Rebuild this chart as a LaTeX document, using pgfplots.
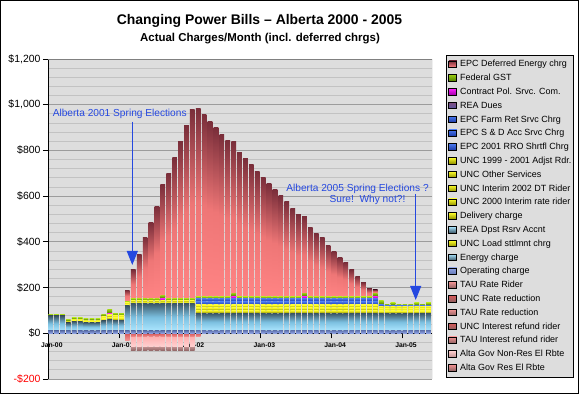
\documentclass[border=0pt]{standalone}
\usepackage{pgfplots}
\pgfplotsset{compat=1.18}
\usepackage{pgfplotstable}
\usepackage{fontspec}
\setmainfont{Liberation Sans}
\usetikzlibrary{arrows.meta}
\definecolor{plotbg}{HTML}{DDDDDD}
\definecolor{majgrid}{HTML}{9C9C9C}
\definecolor{mingrid}{HTML}{C2C2C2}
\definecolor{opB}{HTML}{90A4E6}\definecolor{opT}{HTML}{6478B4}
\definecolor{enB}{HTML}{ACE6FF}\definecolor{enM}{HTML}{7CC0E0}\definecolor{enT}{HTML}{3A5565}
\definecolor{ylB}{HTML}{8E8E00}\definecolor{ylT}{HTML}{FFFF2A}
\definecolor{blB}{HTML}{1A38A6}\definecolor{blT}{HTML}{4A78EE}
\definecolor{mgB}{HTML}{A000A8}\definecolor{mgT}{HTML}{FF20FF}
\definecolor{grB}{HTML}{4E7E00}\definecolor{grT}{HTML}{9ACC10}
\definecolor{rdB}{HTML}{FF8484}\definecolor{rdM}{HTML}{EE7676}\definecolor{rdT}{HTML}{7A2E3A}
\definecolor{naT}{HTML}{C09090}\definecolor{naB}{HTML}{8C6262}
\definecolor{nbT}{HTML}{FFB0B0}\definecolor{nbB}{HTML}{FFD0D0}
\definecolor{ncT}{HTML}{D85858}\definecolor{ncB}{HTML}{F49494}
\definecolor{annot}{HTML}{2548E0}

\pgfdeclareplotmark{nothing}{}
\pgfplotsset{
  barlayer/.style 2 args={forget plot, only marks, mark=nothing, scatter,
    visualization depends on={\thisrow{#1} \as \h},
    scatter/@pre marker code/.code={\pgfscope
      \ifdim\h pt=0pt\else
        \path[draw=none,#2] (-2.35bp,0bp) rectangle ({2.35bp},{-(\h)*0.2285714bp});%
      \fi},
    scatter/@post marker code/.code={\endpgfscope},
  },
  neglayer/.style 2 args={forget plot, stack plots=false, only marks, mark=nothing, scatter,
    visualization depends on={\thisrow{#1} \as \h},
    scatter/@pre marker code/.code={\pgfscope
      \ifdim\h pt=0pt\else
        \path[draw=none,#2] (-2.35bp,0bp) rectangle ({2.35bp},{(\h)*0.2285714bp});%
      \fi},
    scatter/@post marker code/.code={\endpgfscope},
  },
}

% op..rd: stacked layer heights; n1,n2,n3: lower edges of the three
% rebate layers below zero; t1,t2,t3: their thicknesses
\pgfplotstableread{
m op en y1 y2 y3 b1 b2 mg gr rd n1 t1 n2 t2 n3 t3
0 10 66 0 0 0 0 0 0 7 0 0 0 0 0 0 0
1 10 66 0 0 0 0 0 0 7 0 0 0 0 0 0 0
2 10 66 0 0 0 0 0 0 7 0 0 0 0 0 0 0
3 10 36 5 4 0 0 0 0 6 0 0 0 0 0 0 0
4 10 42 6 5 0 0 0 0 6 0 0 0 0 0 0 0
5 10 42 6 5 0 0 0 0 6 0 0 0 0 0 0 0
6 10 38 6 5 0 0 0 0 6 0 0 0 0 0 0 0
7 10 38 6 5 0 0 0 0 6 0 0 0 0 0 0 0
8 10 38 6 5 0 0 0 0 6 0 0 0 0 0 0 0
9 10 46 8 8 0 0 0 3 9 0 0 0 0 0 0 0
10 10 52 9 9 0 0 0 8 16 0 0 0 0 0 0 0
11 10 48 10 9 0 0 0 0 10 0 0 0 0 0 0 0
12 10 48 10 9 0 0 0 0 10 0 0 0 0 0 0 0
13 10 110 7 7 0 0 0 0 6 48 -30 30 0 0 0 0
14 10 122 6 6 0 0 0 0 8 125 -16 16 -58 42 -77 19
15 10 122 6 6 0 0 0 0 8 191 -16 16 -58 42 -77 19
16 10 122 6 6 0 0 0 0 8 267 -16 16 -58 42 -77 19
17 10 122 6 6 0 0 0 0 8 333 -16 16 -58 42 -77 19
18 10 122 6 6 0 0 0 0 8 402 -16 16 -58 42 -77 19
19 10 122 6 6 0 0 0 10 12 484 -16 16 -58 42 -77 19
20 10 122 6 6 0 0 0 0 8 546 -16 16 -58 42 -77 19
21 10 122 6 6 0 0 0 0 8 615 -16 16 -58 42 -77 19
22 10 122 6 6 0 0 0 0 8 689 -16 16 -58 42 -77 19
23 10 122 6 6 0 0 0 0 8 756 -16 16 -58 42 -77 19
24 10 122 6 6 0 0 0 0 8 828 -16 16 -58 42 -77 19
25 12 76 12 12 12 15 14 0 7 823 -14 14 0 0 0 0
26 12 76 12 12 12 15 14 0 7 798 0 0 0 0 0 0
27 12 76 12 12 12 15 14 0 7 767 0 0 0 0 0 0
28 12 76 12 12 12 15 14 0 7 740 0 0 0 0 0 0
29 12 76 12 12 12 15 14 0 7 710 0 0 0 0 0 0
30 12 76 12 12 12 15 14 0 7 684 0 0 0 0 0 0
31 12 76 12 12 12 15 14 10 13 662 0 0 0 0 0 0
32 12 76 12 12 12 15 14 0 7 631 0 0 0 0 0 0
33 12 76 12 12 12 15 14 0 7 604 0 0 0 0 0 0
34 12 76 12 12 12 15 14 0 7 577 0 0 0 0 0 0
35 12 76 12 12 12 15 14 0 7 548 0 0 0 0 0 0
36 12 76 12 12 12 15 14 0 7 523 0 0 0 0 0 0
37 12 76 12 12 12 15 14 0 7 494 0 0 0 0 0 0
38 12 76 12 12 12 15 14 0 7 468 0 0 0 0 0 0
39 12 76 12 12 12 15 14 0 7 442 0 0 0 0 0 0
40 12 76 12 12 12 15 14 0 7 415 0 0 0 0 0 0
41 12 76 12 12 12 15 14 0 7 385 0 0 0 0 0 0
42 12 76 12 12 12 15 14 0 7 358 0 0 0 0 0 0
43 12 76 12 12 12 15 14 10 13 336 0 0 0 0 0 0
44 12 76 12 12 12 15 14 0 7 304 0 0 0 0 0 0
45 12 76 12 12 12 15 14 0 7 275 0 0 0 0 0 0
46 12 76 12 12 12 15 14 0 7 258 0 0 0 0 0 0
47 12 76 12 12 12 15 14 0 7 225 0 0 0 0 0 0
48 12 76 12 12 12 15 14 0 7 198 0 0 0 0 0 0
49 12 76 12 12 12 15 14 0 7 171 0 0 0 0 0 0
50 12 76 12 12 12 15 14 0 7 150 0 0 0 0 0 0
51 12 76 12 12 12 15 14 0 7 117 0 0 0 0 0 0
52 12 76 12 12 12 15 14 0 7 88 0 0 0 0 0 0
53 12 76 12 12 12 15 14 0 7 62 0 0 0 0 0 0
54 12 76 12 12 12 15 14 0 7 36 0 0 0 0 0 0
55 12 76 12 12 12 15 14 10 13 14 0 0 0 0 0 0
56 12 76 10 10 9 10 0 0 15 0 0 0 0 0 0 0
57 12 76 10 10 9 7 0 0 5 0 0 0 0 0 0 0
58 12 76 10 10 9 7 0 0 9 0 0 0 0 0 0 0
59 12 76 10 10 9 7 0 0 4 0 0 0 0 0 0 0
60 12 76 10 10 9 7 0 0 4 0 0 0 0 0 0 0
61 12 76 10 10 9 7 0 0 4 0 0 0 0 0 0 0
62 12 76 10 10 9 7 0 0 9 0 0 0 0 0 0 0
63 12 76 10 10 9 7 0 0 5 0 0 0 0 0 0 0
64 12 76 10 10 9 7 0 0 9 0 0 0 0 0 0 0
}\data

\begin{document}
\begin{tikzpicture}
\useasboundingbox (0,0) rectangle (579bp,394bp);
\fill[white] (0,0) rectangle (579bp,394bp);
\begin{axis}[
  at={(48bp,15bp)}, anchor=south west,
  scale only axis, width=384bp, height=320bp,
  stack plots=y,
  xmin=-0.45, xmax=64.6, ymin=-200, ymax=1200,
  axis background/.style={fill=plotbg},
  axis x line=middle, axis y line=left,
  axis line style={-, black, line width=1bp},
  every inner x axis line/.append style={-},
  every outer y axis line/.append style={-},
  every outer x axis line/.append style={-},
  every inner y axis line/.append style={-},
  hide obscured x ticks=false, hide obscured y ticks=false,
  xtick={-0.4,11.6,23.6,35.6,47.6,59.6},
  xticklabels={Jan-00,Jan-01,Jan-02,Jan-03,Jan-04,Jan-05},
  xticklabel style={font=\fontsize{6.8}{8}\selectfont\bfseries, xshift=3.5bp, yshift=-1bp},
  ytick={-200,0,200,400,600,800,1000,1200},
  yticklabels={{\textcolor{red}{-\$200}},{\$0},{\$200},{\$400},{\$600},{\$800},{\$1,000},{\$1,200}},
  yticklabel style={font=\fontsize{10.5}{12}\selectfont, xshift=1bp},
  minor y tick num=4,
  tick align=outside, major tick length=5bp, minor tick length=0pt,
  tick style={black, line width=0.8bp},
  ymajorgrids, yminorgrids,
  major grid style={majgrid, line width=0.8bp},
  minor grid style={mingrid, line width=0.8bp},
  legend image code/.code={\path[#1] (0bp,-3bp) rectangle (8bp,3.5bp);},
  legend style={at={(1.0365,1.0125)}, anchor=north west,
    fill=plotbg, draw=black, line width=0.8bp,
    font=\fontsize{9}{10}\selectfont,
    inner xsep=2bp, inner ysep=4.5bp,
    row sep=4.8bp, column sep=3bp,
    nodes={inner sep=0pt, text height=7bp, text depth=2bp}},
  legend cell align=left,
]
\addplot[barlayer={op}{bottom color=opB, top color=opT}] table[x=m,y=op]{\data};
\addplot[barlayer={en}{bottom color=enB, top color=enT, middle color=enM}] table[x=m,y=en]{\data};
\addplot[barlayer={y1}{bottom color=ylB, top color=ylT}] table[x=m,y=y1]{\data};
\addplot[barlayer={y2}{bottom color=ylB, top color=ylT}] table[x=m,y=y2]{\data};
\addplot[barlayer={y3}{bottom color=ylB, top color=ylT}] table[x=m,y=y3]{\data};
\addplot[barlayer={b1}{bottom color=blB, top color=blT}] table[x=m,y=b1]{\data};
\addplot[barlayer={b2}{bottom color=blB, top color=blT}] table[x=m,y=b2]{\data};
\addplot[barlayer={mg}{bottom color=mgB, top color=mgT}] table[x=m,y=mg]{\data};
\addplot[barlayer={gr}{bottom color=grB, top color=grT}] table[x=m,y=gr]{\data};
\addplot[barlayer={rd}{bottom color=rdB, top color=rdT, middle color=rdM}] table[x=m,y=rd]{\data};
\addplot[neglayer={t1}{top color=ncT, bottom color=ncB}] table[x=m,y=n1]{\data};
\addplot[neglayer={t2}{top color=nbT, bottom color=nbB}] table[x=m,y=n2]{\data};
\addplot[neglayer={t3}{top color=naT, bottom color=naB}] table[x=m,y=n3]{\data};
\draw[black, line width=1.2bp] (axis cs:-0.45,0) -- (axis cs:64.6,0);
\draw[gray, line width=0.8bp] (rel axis cs:0,0) -- (rel axis cs:1,0) -- (rel axis cs:1,1) -- (rel axis cs:0,1);
\addlegendimage{top color=rdT, bottom color=rdB}\addlegendentry{EPC Deferred Energy chrg}
\addlegendimage{top color=grT, bottom color=grB}\addlegendentry{Federal GST}
\addlegendimage{top color=mgT, bottom color=mgB}\addlegendentry{Contract Pol. Srvc. Com.}
\addlegendimage{top color=violet!40!gray, bottom color=blue!30!gray}\addlegendentry{REA Dues}
\addlegendimage{top color=blT, bottom color=blB}\addlegendentry{EPC Farm Ret Srvc Chrg}
\addlegendimage{top color=blT, bottom color=blB}\addlegendentry{EPC S \& D Acc Srvc Chrg}
\addlegendimage{top color=blT, bottom color=blB}\addlegendentry{EPC 2001 RRO Shrtfl Chrg}
\addlegendimage{top color=ylT, bottom color=ylB}\addlegendentry{UNC 1999 - 2001 Adjst Rdr.}
\addlegendimage{top color=ylT, bottom color=ylB}\addlegendentry{UNC Other Services}
\addlegendimage{top color=ylT, bottom color=ylB}\addlegendentry{UNC Interim 2002 DT Rider}
\addlegendimage{top color=ylT, bottom color=ylB}\addlegendentry{UNC 2000 Interim rate rider}
\addlegendimage{top color=ylT, bottom color=ylB}\addlegendentry{Delivery charge}
\addlegendimage{top color=enB, bottom color=enT}\addlegendentry{REA Dpst Rsrv Accnt}
\addlegendimage{top color=ylT, bottom color=ylB}\addlegendentry{UNC Load sttlmnt chrg}
\addlegendimage{top color=enB, bottom color=enT}\addlegendentry{Energy charge}
\addlegendimage{top color=opB, bottom color=opT}\addlegendentry{Operating charge}
\addlegendimage{top color=ncB, bottom color=naB}\addlegendentry{TAU Rate Rider}
\addlegendimage{top color=ncT, bottom color=naB}\addlegendentry{UNC Rate reduction}
\addlegendimage{top color=ncB, bottom color=naB}\addlegendentry{TAU Rate reduction}
\addlegendimage{top color=ncT, bottom color=naB}\addlegendentry{UNC Interest refund rider}
\addlegendimage{top color=ncB, bottom color=naB}\addlegendentry{TAU Interest refund rider}
\addlegendimage{top color=nbB, bottom color=naT}\addlegendentry{Alta Gov Non-Res El Rbte}
\addlegendimage{top color=ncB, bottom color=naB}\addlegendentry{Alta Gov Res El Rbte}
\end{axis}
\node[font=\fontsize{14}{16}\selectfont\bfseries] at (259.5bp,373bp) {Changing Power Bills -- Alberta 2000 - 2005};
\node[font=\fontsize{11.5}{13}\selectfont\bfseries] at (260bp,355bp) {Actual Charges/Month (incl. deferred chrgs)};
\node[annot, font=\fontsize{10.2}{12}\selectfont] at (119.7bp,280bp) {Alberta 2001 Spring Elections};
\draw[annot, line width=1bp, -{Triangle[length=14bp,width=11bp]}] (132.3bp,272.3bp) -- (132.3bp,129bp);
\node[annot, font=\fontsize{10.2}{12}\selectfont] at (357.5bp,205.5bp) {Alberta 2005 Spring Elections ?};
\node[annot, font=\fontsize{10.2}{12}\selectfont] at (367.5bp,194bp) {Sure!\ \ Why not?!};
\draw[annot, line width=1bp, -{Triangle[length=14bp,width=11bp]}] (415.7bp,200bp) -- (415.7bp,94bp);
\draw[black, line width=1bp] (0.5bp,0.5bp) rectangle (578.5bp,393.5bp);
\end{tikzpicture}
\end{document}
